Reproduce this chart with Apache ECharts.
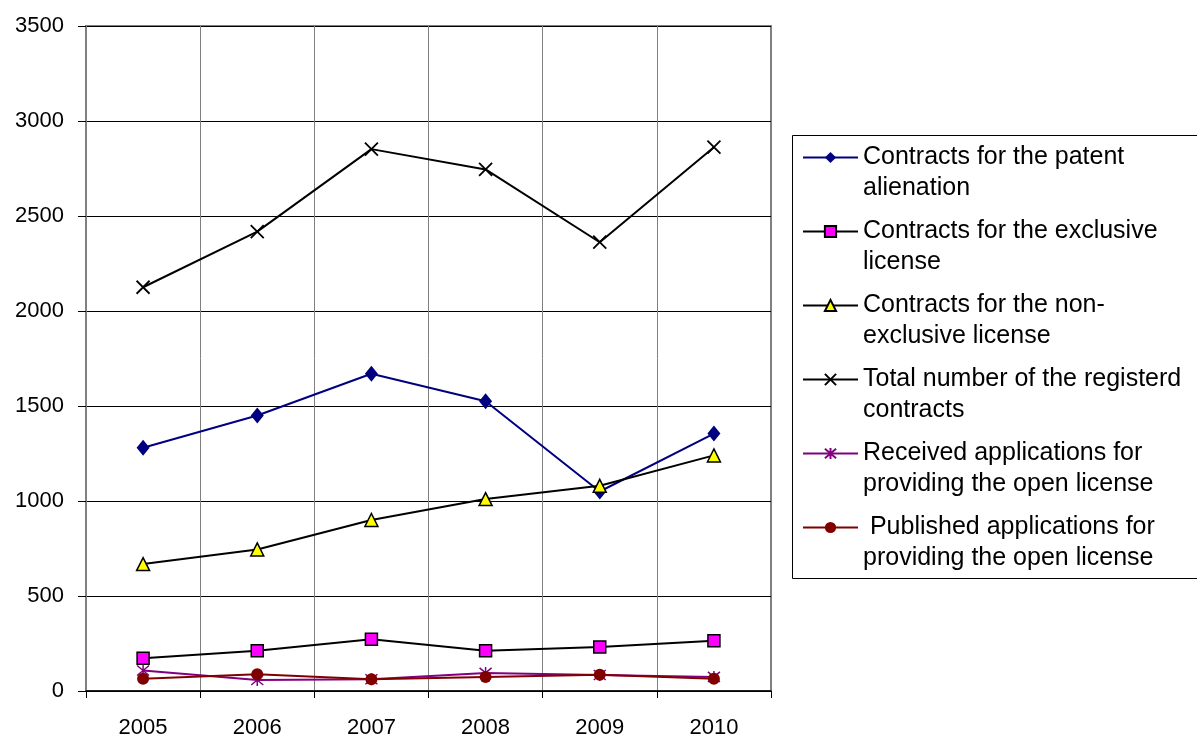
<!DOCTYPE html>
<html>
<head>
<meta charset="utf-8">
<script src="https://cdn.jsdelivr.net/npm/echarts@6/dist/echarts.min.js"></script>
<style>
  html, body { margin: 0; padding: 0; background: #fff; }
  #main { width: 1197px; height: 740px; }
</style>
</head>
<body>
<div id="main"></div>
<script>
// years on the category axis
const years = ['2005', '2006', '2007', '2008', '2009', '2010'];
const yTicks = [0, 500, 1000, 1500, 2000, 2500, 3000, 3500];

const seriesNames = [
    'Contracts for the patent\nalienation',
    'Contracts for the exclusive\nlicense',
    'Contracts for the non-\nexclusive license',
    'Total number of the registerd\ncontracts',
    'Received applications for\nproviding the open license',
    ' Published applications for\nproviding the open license'
];

const patentAlienation = [1280, 1450, 1670, 1525, 1050, 1355];
const exclusiveLicense = [172, 212, 272, 212, 232, 265];
const nonExclusive = [668, 745, 900, 1010, 1080, 1240];
const totalContracts = [2125, 2418, 2852, 2745, 2362, 2862];
const receivedOpen = [108, 58, 62, 95, 84, 74];
const publishedOpen = [65, 88, 62, 74, 86, 65];

const crossPath = 'path://M0,0L10,10M10,0L0,10';
const starPath = 'path://M0,0L10,10M10,0L0,10M5,-1L5,11';

var chartDom = document.getElementById('main');
var myChart = echarts.init(chartDom);

let option = {
    animation: false,
    textStyle: { fontFamily: 'Liberation Sans, Arial, sans-serif' },
    grid: {
        left: 86, right: 426, top: 26, bottom: 49,
        show: true, borderColor: '#808080', borderWidth: 2
    },
    legend: {
        orient: 'vertical',
        left: 802,
        top: 111,
        padding: 0,
        itemWidth: 55,
        itemHeight: 14,
        itemGap: -19,
        selectedMode: false,
        data: seriesNames,
        // empty first line keeps the icon level with the first text line
        formatter: name => '\n' + name,
        textStyle: {
            fontSize: 25,
            lineHeight: 31,
            color: '#000'
        }
    },
    graphic: [{
        type: 'rect',
        shape: { x: 792.5, y: 135.5, width: 420, height: 443 },
        style: { fill: 'none', stroke: '#000', lineWidth: 1 },
        z: -1
    }],
    xAxis: {
        type: 'category',
        data: years,
        boundaryGap: true,
        axisLine: { lineStyle: { color: '#000', width: 1.5 } },
        axisTick: { show: true, length: 7, lineStyle: { color: '#000' } },
        axisLabel: { fontSize: 22, color: '#000', margin: 26 },
        splitLine: { show: true, lineStyle: { color: '#808080', width: 1 } }
    },
    yAxis: {
        type: 'value',
        min: yTicks[0],
        max: yTicks[yTicks.length - 1],
        interval: 500,
        axisLine: { show: true, lineStyle: { color: '#808080', width: 2 } },
        axisTick: { show: true, length: 8, lineStyle: { color: '#000' } },
        axisLabel: { fontSize: 22, color: '#000', margin: 22, formatter: v => String(v) },
        splitLine: { show: true, lineStyle: { color: '#000', width: 1 } }
    },
    series: [
        {
            name: seriesNames[0], type: 'line', data: patentAlienation,
            symbol: 'diamond', symbolSize: [13, 16],
            lineStyle: { color: '#000080', width: 2 },
            itemStyle: { color: '#000080' }
        },
        {
            name: seriesNames[1], type: 'line', data: exclusiveLicense,
            symbol: 'rect', symbolSize: 12,
            lineStyle: { color: '#000', width: 2 },
            itemStyle: { color: '#ff00ff', borderColor: '#000', borderWidth: 1.5 }
        },
        {
            name: seriesNames[2], type: 'line', data: nonExclusive,
            symbol: 'triangle', symbolSize: 13,
            lineStyle: { color: '#000', width: 2 },
            itemStyle: { color: '#ffff00', borderColor: '#000', borderWidth: 1.5 }
        },
        {
            name: seriesNames[3], type: 'line', data: totalContracts,
            symbol: crossPath, symbolSize: 13,
            lineStyle: { color: '#000', width: 2 },
            itemStyle: { color: 'transparent', borderColor: '#000', borderWidth: 1.8 }
        },
        {
            name: seriesNames[4], type: 'line', data: receivedOpen,
            symbol: starPath, symbolSize: 12,
            lineStyle: { color: '#800080', width: 2 },
            itemStyle: { color: 'transparent', borderColor: '#800080', borderWidth: 1.5 }
        },
        {
            name: seriesNames[5], type: 'line', data: publishedOpen,
            symbol: 'circle', symbolSize: 12,
            lineStyle: { color: '#800000', width: 2 },
            itemStyle: { color: '#800000' }
        }
    ]
};

myChart.setOption(option);
</script>
</body>
</html>
